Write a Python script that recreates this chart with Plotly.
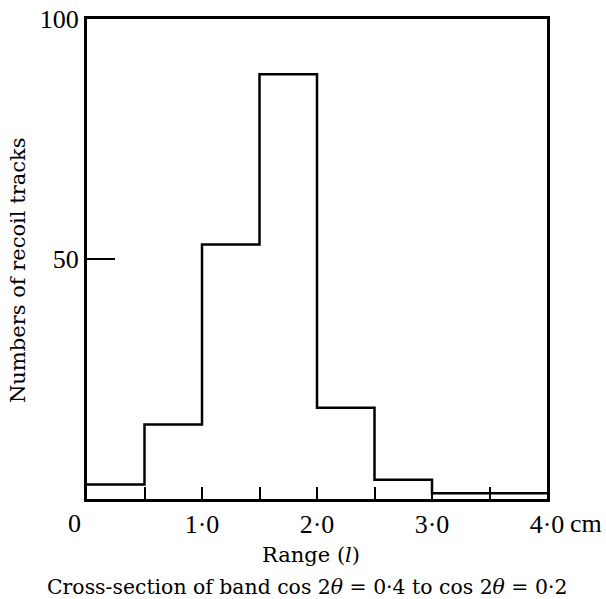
import plotly.graph_objects as go

# Data: histogram of recoil track ranges
bin_edges = [0.0, 0.5, 1.0, 1.5, 2.0, 2.5, 3.0, 3.5, 4.0]
counts = [3, 15.5, 53, 88.5, 19, 4, 1.2, 1.2]

x_tickvals = [0.0, 0.5, 1.0, 1.5, 2.0, 2.5, 3.0, 3.5, 4.0]
x_ticktext = ["", "", "1·0", "", "2·0", "", "3·0", "", "4·0"]
y_tickvals = [50, 100]
y_ticktext = ["50", "100"]

NUMFONT = "Liberation Serif"
TXTFONT = "DejaVu Serif"

fig = go.Figure()
fig.add_trace(go.Scatter(
    x=bin_edges,
    y=counts + [counts[-1]],
    mode="lines",
    line=dict(shape="hv", color="black", width=2.5),
    hoverinfo="skip",
    showlegend=False,
))

fig.update_layout(
    width=606, height=599,
    margin=dict(l=87, r=59, t=19, b=100),
    paper_bgcolor="white", plot_bgcolor="white",
    font=dict(family=NUMFONT, color="black"),
    xaxis=dict(
        range=[0, 4.0], showgrid=False, zeroline=False, automargin=False,
        showline=True, linecolor="black", linewidth=3, mirror=True,
        ticks="inside", ticklen=12, tickwidth=1.5, tickcolor="black",
        tickvals=x_tickvals, ticktext=x_ticktext, ticklabeloverflow="allow",
        tickfont=dict(family=NUMFONT, size=26),
    ),
    yaxis=dict(
        range=[0, 100], showgrid=False, zeroline=False, automargin=False,
        showline=True, linecolor="black", linewidth=3, mirror=True,
        ticks="inside", ticklen=28, tickwidth=1.5, tickcolor="black",
        tickvals=y_tickvals, ticktext=y_ticktext, ticklabeloverflow="allow",
        tickfont=dict(family=NUMFONT, size=26),
    ),
    annotations=[
        dict(text="0", x=-0.028, y=-0.05, xref="paper", yref="paper",
             showarrow=False, font=dict(family=NUMFONT, size=26), xanchor="center", yanchor="middle"),
        dict(text="cm", x=1.046, y=-0.05, xref="paper", yref="paper",
             showarrow=False, font=dict(family=NUMFONT, size=26), xanchor="left", yanchor="middle"),
        dict(text="Range (<i>l</i>)", x=0.488, y=-0.117, xref="paper", yref="paper",
             showarrow=False, font=dict(family=TXTFONT, size=21), xanchor="center", yanchor="middle"),
        dict(text="Cross-section of band cos 2<i>θ</i> = 0·4 to cos 2<i>θ</i> = 0·2",
             x=0.479, y=-0.183, xref="paper", yref="paper",
             showarrow=False, font=dict(family=TXTFONT, size=20.4), xanchor="center", yanchor="middle"),
        dict(text="Numbers of recoil tracks", x=-0.15, y=0.477, xref="paper", yref="paper",
             textangle=-90, showarrow=False, font=dict(family=TXTFONT, size=21),
             xanchor="center", yanchor="middle"),
    ],
)

fig.write_html("out.html", config={"displayModeBar": False},
               post_script="document.body.style.margin='0px';")
